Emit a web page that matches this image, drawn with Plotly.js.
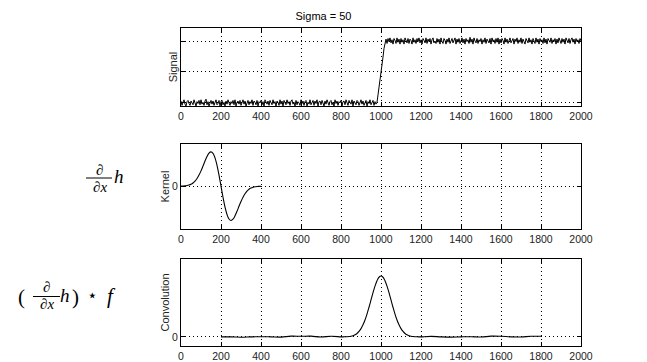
<!DOCTYPE html>
<html><head><meta charset="utf-8">
<script src="https://cdn.plot.ly/plotly-3.0.1.min.js"></script>
<style>html,body{margin:0;padding:0;background:#fff}#c{width:647px;height:362px}</style>
</head><body><div id="c"></div>
<script>
const xTicks = [0,200,400,600,800,1000,1200,1400,1600,1800,2000];
const xTickLabels = ["0","200","400","600","800","1000","1200","1400","1600","1800","2000"];
const titleText = "Sigma = 50";

// Noisy step signal, sampled every 5 from 0 to 2000
const signalStart = 0, signalStep = 5;
const signalLow = [
 0.03,-0.04,0.01,0.05,-0.02,-0.05,0.02,0.04,-0.01,-0.04,0.03,0.00,-0.03,0.05,0.01,-0.05,0.02,-0.01,0.04,-0.03,
 0.05,-0.02,0.01,-0.04,0.03,0.06,-0.03,0.02,-0.05,0.00,0.04,-0.02,0.03,-0.04,0.01,0.05,-0.03,-0.01,0.04,-0.05,
 0.02,0.04,-0.03,0.01,-0.05,0.03,-0.02,0.05,0.00,-0.04,0.02,-0.01,0.04,-0.03,0.05,-0.05,0.01,0.03,-0.02,0.04,
 -0.04,0.01,0.05,-0.02,0.03,-0.05,0.00,0.04,-0.03,0.02,-0.01,0.05,-0.04,0.03,0.01,-0.03,0.04,-0.05,0.02,0.00,
 0.04,-0.03,0.02,-0.05,0.05,0.01,-0.02,0.03,-0.04,0.04,0.00,-0.03,0.05,-0.01,0.02,-0.05,0.03,0.01,-0.04,0.05,
 -0.02,0.03,-0.05,0.04,0.00,-0.03,0.05,-0.01,0.02,-0.04,0.03,0.05,-0.02,0.01,-0.05,0.04,-0.03,0.02,0.00,-0.04,
 0.05,-0.01,0.03,-0.04,0.02,0.04,-0.05,0.01,-0.02,0.05,-0.03,0.00,0.04,-0.04,0.03,-0.01,0.05,-0.05,0.02,0.03,
 -0.03,0.04,0.00,-0.05,0.03,-0.02,0.05,0.01,-0.04,0.02,0.04,-0.03,0.01,-0.05,0.05,-0.01,0.03,-0.04,0.02,0.00,
 0.04,-0.05,0.02,0.03,-0.03,0.05,-0.01,-0.04,0.04,0.01,-0.02,0.05,-0.05,0.03,0.00,-0.03,0.04,0.02,-0.04,0.01,
 0.05,-0.02,0.03,-0.04,0.01,0.04,-0.05,0.02,-0.01,0.05,-0.03,0.00,0.04,-0.04,0.02,-0.02
];
const signalRamp = [0.01,0.13,0.24,0.38,0.49,0.63,0.74,0.88,0.99];
const signalHigh = [
 1.03,0.96,1.04,0.99,1.05,0.97,1.02,0.95,1.04,1.01,0.96,1.05,0.98,1.03,0.95,
 1.04,0.98,1.02,0.95,1.05,1.00,0.97,1.04,0.96,1.03,1.01,0.95,1.05,0.98,1.02,0.96,1.04,0.99,1.05,0.97,
 1.02,0.95,1.04,1.01,0.97,1.05,0.96,1.03,0.99,1.04,0.95,1.02,1.05,0.97,1.00,0.96,1.04,0.98,1.03,0.95,
 1.05,0.99,0.96,1.04,1.01,0.95,1.03,0.98,1.05,0.96,1.02,1.04,0.97,1.00,1.05,0.95,1.03,0.98,1.04,0.96,
 1.01,1.05,0.97,1.03,0.95,1.04,0.99,1.02,0.96,1.06,0.98,1.03,0.95,1.05,1.00,0.97,1.04,0.96,1.02,0.99,
 1.04,0.95,1.02,0.98,1.05,0.96,1.03,1.00,0.97,1.04,0.95,1.05,0.99,1.02,0.96,1.04,0.98,1.05,0.95,1.03,
 0.97,1.04,1.01,0.95,1.05,0.98,1.03,0.96,1.02,1.05,0.97,1.00,1.04,0.95,1.03,0.99,1.05,0.96,1.02,0.98,
 1.05,0.96,1.03,0.99,0.95,1.04,1.01,0.97,1.05,0.98,1.02,0.95,1.04,1.00,0.96,1.05,0.98,1.03,0.95,1.04,
 0.99,1.02,0.96,1.05,0.97,1.03,0.95,1.04,1.01,0.98,1.05,0.96,1.02,0.99,1.04,0.95,1.03,0.97,1.05,1.00,
 0.96,1.04,0.98,1.03,0.95,1.05,1.01,0.97,1.04,0.96,1.02,1.05,0.98,1.03,0.95,1.04,0.99,1.02,0.96,1.04,
 1.00
];
const signalY = signalLow.concat(signalRamp, signalHigh);

// Kernel (derivative of Gaussian) sampled every 10 from 0 to 400
const kernelStart = 0, kernelStep = 10;
const kernelY = [
 0.002,0.005,0.009,0.017,0.032,0.055,0.092,0.146,0.222,0.323,
 0.446,0.587,0.733,0.866,0.963,1.000,0.958,0.826,0.609,0.323,0,
 -0.323,-0.609,-0.826,-0.958,-1.000,-0.963,-0.866,-0.733,-0.587,
 -0.446,-0.323,-0.222,-0.146,-0.092,-0.055,-0.032,-0.017,-0.009,-0.005,-0.002
];

// Convolution result
const convX = [
 200,250,300,350,400,450,500,550,600,650,700,750,
 800,810,820,830,840,850,860,870,880,890,900,910,920,930,940,950,960,970,980,990,
 1000,1010,1020,1030,1040,1050,1060,1070,1080,1090,1100,1110,1120,1130,1140,1150,1160,1170,1180,1190,1200,
 1250,1300,1350,1400,1450,1500,1550,1600,1650,1700,1750,1800
];
const convY = [
 0,0,-0.005,0,0.003,0,-0.004,0.012,0.010,0.012,-0.003,0.010,
 0.0003,0.0007,0.0015,0.003,0.006,0.011,0.020,0.034,0.056,0.089,0.135,0.198,0.278,0.375,0.487,0.607,0.726,0.835,0.923,0.980,
 1.000,0.980,0.923,0.835,0.726,0.607,0.487,0.375,0.278,0.198,0.135,0.089,0.056,0.034,0.020,0.011,0.006,0.003,0.0015,0.0007,0.0003,
 0.008,0,-0.004,0,0.003,-0.003,0.012,0.010,0,-0.002,0.010,0.011
];

const signalTicks = [0,0.5,1];
const zeroTick = [0];

const W = 647, H = 362, L = 181, R = 66, PW = W - L - R;
const px = x => (x - L) / PW;
const py = y => 1 - y / H;

const traces = [
 {x0:signalStart, dx:signalStep, y:signalY, xaxis:'x', yaxis:'y', type:'scatter', mode:'lines', line:{color:'#000',width:1}, hoverinfo:'skip'},
 {x0:kernelStart, dx:kernelStep, y:kernelY, xaxis:'x2', yaxis:'y2', type:'scatter', mode:'lines', line:{color:'#000',width:1.1,shape:'spline'}, hoverinfo:'skip'},
 {x:convX, y:convY, xaxis:'x3', yaxis:'y3', type:'scatter', mode:'lines', line:{color:'#000',width:1.1,shape:'spline'}, hoverinfo:'skip'}
];

const sans = 'Liberation Sans';
const tickFont = {family:sans, size:10.5, color:'#222'};
const gridDash = '1px,3px';
function xa(anchor){
  return {anchor:anchor, domain:[0,1], range:[0,2000], tickmode:'array', tickvals:xTicks, ticktext:xTickLabels,
    ticks:'inside', ticklen:4, tickcolor:'#000', showline:true, mirror:'ticks', linecolor:'#000', linewidth:1,
    showgrid:true, gridcolor:'#000', griddash:gridDash, gridwidth:1, zeroline:false, tickfont:tickFont, fixedrange:true};
}
function ya(anchor, dom, range, tv, tt, showLabels, title, standoff){
  return {anchor:anchor, domain:dom, range:range, tickmode:'array', tickvals:tv, ticktext:tt, showticklabels:showLabels,
    ticks:'inside', ticklen:4, tickcolor:'#000', showline:true, mirror:'ticks', linecolor:'#000', linewidth:1,
    showgrid:true, gridcolor:'#000', griddash:gridDash, gridwidth:1, zeroline:false, tickfont:tickFont,
    title:{text:title, font:{family:sans, size:11, color:'#222'}, standoff:standoff}, fixedrange:true};
}

const serif = '"Liberation Serif", "DejaVu Serif", "Times New Roman", serif';
function ann(text, x, y, size){
  return {text:text, xref:'paper', yref:'paper', x:px(x), y:py(y), xanchor:'center', yanchor:'middle', showarrow:false,
    font:{family:serif, size:size, color:'#000'}};
}

const layout = {
  width:W, height:H, margin:{l:L, r:R, t:0, b:0}, paper_bgcolor:'#fff', plot_bgcolor:'#fff', showlegend:false,
  title:{text:titleText, font:{family:sans, size:11, color:'#000'}, x:px(381), xanchor:'center', y:py(16), yanchor:'middle'},
  xaxis: xa('y'),
  yaxis: ya('x', [py(106), py(28)], [-0.05,1.21], signalTicks, ["","",""], false, 'Signal', 0),
  xaxis2: xa('y2'),
  yaxis2: ya('x2', [py(229), py(144)], [-1.25,1.23], zeroTick, ["0"], true, 'Kernel', 0),
  xaxis3: xa('y3'),
  yaxis3: ya('x3', [py(346), py(259)], [-0.15,1.28], zeroTick, ["0"], true, 'Convolution', 0),
  annotations: [
    ann('\u2202', 99, 170, 15),
    ann('\u2202<i>x</i>', 99.5, 187, 15),
    ann('<i>h</i>', 119, 176, 19),
    ann('(', 21, 297, 21),
    ann('\u2202', 46, 287, 15),
    ann('\u2202<i>x</i>', 46.5, 304, 15),
    ann('<i>h</i>', 65, 295, 19),
    ann(')', 75, 297, 21),
    ann('\u22c6', 92, 295, 17),
    ann('<i>f</i>', 111, 296, 21)
  ],
  shapes: [
    {type:'line', xref:'paper', yref:'paper', x0:px(86), x1:px(112), y0:py(178), y1:py(178), line:{color:'#000', width:1}},
    {type:'line', xref:'paper', yref:'paper', x0:px(33), x1:px(60), y0:py(296.5), y1:py(296.5), line:{color:'#000', width:1}}
  ]
};

Plotly.newPlot('c', traces, layout, {staticPlot:true, displayModeBar:false});
</script></body></html>
